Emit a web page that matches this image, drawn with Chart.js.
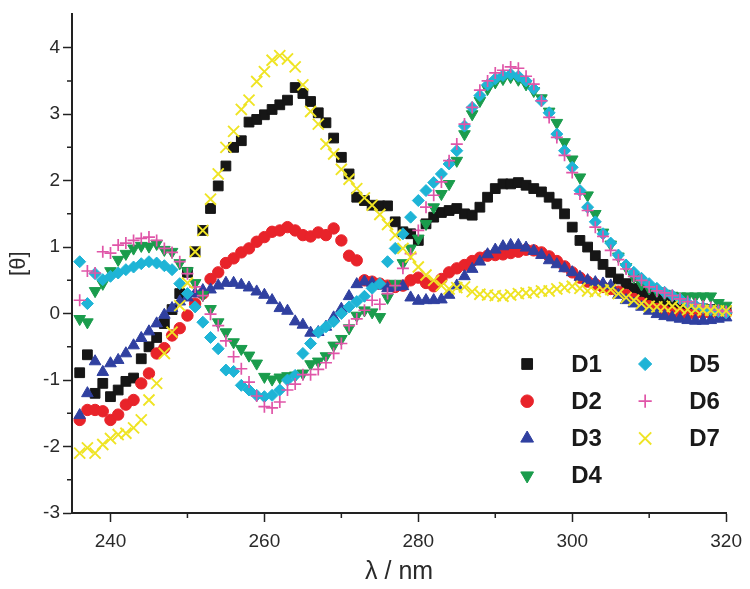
<!DOCTYPE html>
<html>
<head>
<meta charset="utf-8">
<script src="https://cdn.jsdelivr.net/npm/chart.js@4.4.0/dist/chart.umd.min.js"></script>
<style>
  html, body { margin: 0; padding: 0; background: #fff; }
  #wrap { width: 750px; height: 589px; }
</style>
</head>
<body>
<div id="wrap"><canvas id="cdChart" width="750" height="589"></canvas></div>
<script>
// --- Data ---
const wavelength = [
  236, 237, 238, 239, 240, 241, 242, 243, 244, 245,
  246, 247, 248, 249, 250, 251, 252, 253, 254, 255,
  256, 257, 258, 259, 260, 261, 262, 263, 264, 265,
  266, 267, 268, 269, 270, 271, 272, 273, 274, 275,
  276, 277, 278, 279, 280, 281, 282, 283, 284, 285,
  286, 287, 288, 289, 290, 291, 292, 293, 294, 295,
  296, 297, 298, 299, 300, 301, 302, 303, 304, 305,
  306, 307, 308, 309, 310, 311, 312, 313, 314, 315,
  316, 317, 318, 319, 320
];

const d1 = [
  -0.89, -0.62, -1.2, -1.05, -1.25, -1.15, -1.02, -0.97, -0.68, -0.5,
  -0.36, -0.15, 0.06, 0.3, 0.62, 0.93, 1.25, 1.58, 1.92, 2.22,
  2.5, 2.6, 2.88, 2.92, 2.99, 3.07, 3.14, 3.21, 3.4, 3.31,
  3.19, 3.02, 2.87, 2.64, 2.35, 2.1, 1.75, 1.7, 1.63, 1.62,
  1.62, 1.38, 1.23, 1.2, 1.1, 1.35, 1.45, 1.52, 1.55, 1.58,
  1.5, 1.48, 1.6, 1.75, 1.88, 1.95, 1.95, 1.97, 1.93, 1.88,
  1.83, 1.75, 1.65, 1.5, 1.3, 1.1, 1.0, 0.87, 0.74, 0.62,
  0.52, 0.45, 0.38, 0.32, 0.26, 0.22, 0.18, 0.15, 0.12, 0.1,
  0.08, 0.07, 0.06, 0.05, 0.05
];

const d2 = [
  -1.6, -1.45, -1.45, -1.47, -1.6, -1.52, -1.37, -1.3, -1.05, -0.9,
  -0.6, -0.52, -0.33, -0.22, -0.03, 0.15, 0.3, 0.52, 0.62, 0.76,
  0.83, 0.92, 0.98, 1.08, 1.15, 1.23, 1.25, 1.3, 1.25, 1.18,
  1.16, 1.22, 1.18, 1.28, 1.1, 0.87, 0.8, 0.5, 0.48, 0.45,
  0.42, 0.4, 0.42, 0.5, 0.54, 0.46, 0.41, 0.52, 0.62, 0.68,
  0.73, 0.79, 0.84, 0.87, 0.88, 0.89, 0.91, 0.93, 0.96, 0.95,
  0.92, 0.86, 0.79, 0.71, 0.62, 0.54, 0.48, 0.44, 0.4, 0.37,
  0.33, 0.28, 0.22, 0.16, 0.11, 0.07, 0.04, 0.02, 0.0, -0.01,
  0.0, 0.01, 0.01, 0.01, 0.01
];

const d3 = [
  -1.53, -1.2, -0.72, -0.88, -0.75, -0.7, -0.6, -0.48, -0.37, -0.27,
  -0.15, -0.02, 0.08, 0.18, 0.24, 0.3, 0.35, 0.36, 0.42, 0.46,
  0.46, 0.43, 0.39, 0.33, 0.28, 0.2, 0.08, 0.04, -0.12, -0.17,
  -0.29, -0.28, -0.2, -0.06, 0.07, 0.26, 0.44, 0.48, 0.46, 0.42,
  0.38, 0.4, 0.41, 0.24, 0.19, 0.2, 0.2, 0.21, 0.28, 0.42,
  0.56, 0.67, 0.78, 0.89, 0.96, 1.01, 1.03, 1.03, 0.99, 0.94,
  0.88, 0.8, 0.74, 0.68, 0.62, 0.55, 0.5, 0.47, 0.45, 0.42,
  0.28, 0.2, 0.15, 0.1, 0.04, -0.01, -0.04, -0.06, -0.08, -0.1,
  -0.11, -0.11, -0.1, -0.08, -0.06
];

const d4 = [
  -0.08, -0.13, 0.34, 0.45, 0.64, 0.81, 0.9, 0.98, 1.02, 1.01,
  1.05, 0.96, 0.93, 0.76, 0.64, 0.46, 0.28, 0.07, -0.13, -0.28,
  -0.43, -0.53, -0.63, -0.75, -0.95, -0.99, -0.96, -0.94, -0.93, -0.9,
  -0.76, -0.72, -0.64, -0.48, -0.38, -0.22, -0.03, 0.05, 0.02, -0.05,
  0.24, 0.45, 0.76, 0.98, 1.13, 1.35, 1.6, 1.8, 1.95, 2.3,
  2.7, 3.0, 3.2, 3.38, 3.48, 3.53, 3.56, 3.52, 3.45, 3.35,
  3.24, 3.04, 2.87, 2.58, 2.32, 2.05, 1.78, 1.5, 1.22, 1.04,
  0.86, 0.7, 0.55, 0.44, 0.38, 0.34, 0.3, 0.27, 0.26, 0.26,
  0.26, 0.26, 0.26, 0.16, 0.12
];

const d5 = [
  0.78, 0.15, 0.6, 0.51, 0.56, 0.61, 0.66, 0.7, 0.75, 0.78,
  0.76, 0.72, 0.66, 0.45, 0.3, 0.1, -0.13, -0.36, -0.53, -0.85,
  -0.87, -1.08, -1.15, -1.23, -1.25, -1.23, -1.15, -1.0, -0.93, -0.6,
  -0.45, -0.28, -0.2, -0.12, 0.0, 0.1, 0.18, 0.26, 0.38, 0.45,
  0.78, 0.98, 1.2, 1.45, 1.7, 1.85, 1.97, 2.1, 2.25, 2.45,
  2.82, 3.1, 3.28, 3.44, 3.53, 3.58, 3.6, 3.57, 3.5, 3.38,
  3.2, 3.02, 2.7, 2.45, 2.2, 1.85, 1.6, 1.38, 1.2, 1.06,
  0.88, 0.73, 0.62, 0.53, 0.45, 0.38, 0.32, 0.27, 0.22, 0.16,
  0.12, 0.09, 0.06, 0.03, 0.01
];

const d6 = [
  0.2, 0.64, 0.61, 0.93, 0.91, 1.03, 1.06, 1.1, 1.13, 1.15,
  1.1, 0.98, 0.92, 0.78, 0.6, 0.4, 0.27, -0.01, -0.18, -0.41,
  -0.65, -0.83, -1.03, -1.24, -1.4, -1.42, -1.33, -1.15, -1.06, -0.92,
  -0.92, -0.84, -0.74, -0.6, -0.45, -0.18, -0.08, 0.05, 0.2, 0.14,
  0.3, 0.42, 0.68, 0.9, 1.25, 1.6, 1.78, 1.98, 2.3, 2.55,
  2.85, 3.1, 3.36, 3.5, 3.62, 3.66, 3.71, 3.69, 3.57, 3.45,
  3.2, 2.95, 2.65, 2.38, 2.12, 1.8, 1.55, 1.3, 1.16, 0.95,
  0.81, 0.67, 0.56, 0.5, 0.4, 0.34, 0.31, 0.27, 0.22, 0.18,
  0.14, 0.11, 0.09, 0.05, 0.03
];

const d7 = [
  -2.1, -2.02, -2.1, -1.97, -1.88, -1.82, -1.8, -1.72, -1.6, -1.3,
  -1.05, -0.6, -0.28, 0.12, 0.46, 0.93, 1.25, 1.72, 2.1, 2.5,
  2.74, 3.07, 3.21, 3.49, 3.64, 3.81, 3.88, 3.83, 3.71, 3.44,
  3.04, 2.85, 2.55, 2.4, 2.17, 2.02, 1.88, 1.74, 1.63, 1.49,
  1.34, 1.18, 0.98, 0.85, 0.7, 0.58, 0.5, 0.42, 0.37, 0.39,
  0.4, 0.33, 0.29, 0.28, 0.27, 0.26, 0.28, 0.3, 0.31, 0.32,
  0.34, 0.34, 0.37, 0.39, 0.41, 0.38, 0.34, 0.33, 0.35, 0.36,
  0.3, 0.24, 0.2, 0.15, 0.11, 0.1, 0.1, 0.11, 0.08, 0.06,
  0.06, 0.05, 0.05, 0.04, 0.04
];

const seriesNames = ['D1', 'D2', 'D3', 'D4', 'D5', 'D6', 'D7'];
const seriesValues = [d1, d2, d3, d4, d5, d6, d7];

const xTickLabels = [240, 260, 280, 300, 320];
const xMinorTicks = [250, 270, 290, 310];
const yTickLabels = [-3, -2, -1, 0, 1, 2, 3, 4];
const yMinorTicks = [-2.5, -1.5, -0.5, 0.5, 1.5, 2.5, 3.5];

// --- Styles ---
const FONT = "'Liberation Sans', Arial, Helvetica, sans-serif";
const AXIS_COLOR = '#222222';
const TEXT_COLOR = '#2a2a2a';

const markerStyles = [
  { color: '#161616', pointStyle: 'rect',     radius: 6.9, rotation: 0,   border: 1 },
  { color: '#e8232a', pointStyle: 'circle',   radius: 5.7, rotation: 0,   border: 1 },
  { color: '#3040a0', pointStyle: 'triangle', radius: 6.7, rotation: 0,   border: 1 },
  { color: '#1a9c4c', pointStyle: 'triangle', radius: 6.7, rotation: 180, border: 1 },
  { color: '#1eb4d6', pointStyle: 'rectRot',  radius: 6.0, rotation: 0,   border: 1 },
  { color: '#e055a8', pointStyle: 'cross',    radius: 6.0, rotation: 0,   border: 1.7 },
  { color: '#efe424', pointStyle: 'crossRot', radius: 7.8, rotation: 0,   border: 1.9 }
];

// --- Plugins ---
const minorTicks = {
  id: 'minorTicks',
  afterDraw(chart) {
    const { ctx, chartArea, scales } = chart;
    ctx.save();
    ctx.strokeStyle = AXIS_COLOR;
    ctx.lineWidth = 1.5;
    ctx.beginPath();
    xMinorTicks.forEach(v => {
      const px = scales.x.getPixelForValue(v);
      ctx.moveTo(px, chartArea.bottom);
      ctx.lineTo(px, chartArea.bottom + 5);
    });
    yMinorTicks.forEach(v => {
      const py = scales.y.getPixelForValue(v);
      ctx.moveTo(chartArea.left, py);
      ctx.lineTo(chartArea.left - 5, py);
    });
    ctx.stroke();
    ctx.restore();
  }
};

// two-column legend inside the plot, D1-D4 left and D5-D7 right
const cornerLegend = {
  id: 'cornerLegend',
  afterDraw(chart) {
    const { ctx, chartArea } = chart;
    ctx.save();
    ctx.font = 'bold 24px ' + FONT;
    ctx.textBaseline = 'middle';
    ctx.textAlign = 'left';
    chart.data.datasets.forEach((ds, i) => {
      const col = i < 4 ? 0 : 1;
      const row = i < 4 ? i : i - 4;
      const mx = chartArea.right - 199 + col * 118;
      const my = chartArea.bottom - 149 + row * 37.2;
      ctx.fillStyle = ds.backgroundColor;
      ctx.strokeStyle = ds.borderColor;
      ctx.lineWidth = ds.pointBorderWidth;
      Chart.helpers.drawPoint(ctx, {
        pointStyle: ds.pointStyle,
        rotation: ds.pointRotation || 0,
        radius: ds.pointRadius * 1.1,
        borderWidth: ds.pointBorderWidth
      }, mx, my);
      ctx.fillStyle = '#1a1a1a';
      ctx.fillText(ds.label, mx + 44, my + 1);
    });
    ctx.restore();
  }
};

// --- Chart ---
function buildDatasets() {
  return seriesNames.map((name, i) => {
    const st = markerStyles[i];
    return {
      label: name,
      data: wavelength.map((w, k) => ({ x: w, y: seriesValues[i][k] })),
      backgroundColor: st.color,
      borderColor: st.color,
      pointStyle: st.pointStyle,
      pointRadius: st.radius,
      pointRotation: st.rotation,
      pointBorderWidth: st.border,
      showLine: false,
      clip: false,
      order: seriesNames.length - i
    };
  });
}

document.addEventListener('DOMContentLoaded', () => {
  const ctx = document.getElementById('cdChart').getContext('2d');
  new Chart(ctx, {
    type: 'scatter',
    data: { datasets: buildDatasets() },
    options: {
      responsive: false,
      animation: false,
      devicePixelRatio: 1,
      events: [],
      layout: { padding: { left: 0, right: 22, top: 9, bottom: 0 } },
      plugins: { legend: { display: false }, tooltip: { enabled: false } },
      scales: {
        x: {
          type: 'linear',
          min: 235,
          max: 320,
          border: { display: true, color: AXIS_COLOR, width: 2 },
          grid: { display: true, drawOnChartArea: false, drawTicks: true, tickLength: 9, tickWidth: 1.5, tickColor: AXIS_COLOR },
          ticks: {
            stepSize: 20,
            includeBounds: false,
            autoSkip: false,
            maxRotation: 0,
            padding: 8,
            color: TEXT_COLOR,
            font: { family: FONT, size: 19 },
            callback: v => xTickLabels.includes(v) ? String(v) : ''
          },
          title: {
            display: true,
            text: 'λ / nm',
            color: TEXT_COLOR,
            font: { family: FONT, size: 25 },
            padding: { top: 0, bottom: 2 }
          },
          afterFit(scale) { scale.height = 76; }
        },
        y: {
          type: 'linear',
          min: -3,
          max: 4.5,
          border: { display: true, color: AXIS_COLOR, width: 2 },
          grid: { display: true, drawOnChartArea: false, drawTicks: true, tickLength: 9, tickWidth: 1.5, tickColor: AXIS_COLOR },
          ticks: {
            stepSize: 1,
            includeBounds: false,
            padding: 3,
            color: TEXT_COLOR,
            font: { family: FONT, size: 19 },
            callback: v => yTickLabels.includes(v) ? String(v) : ''
          },
          title: {
            display: true,
            text: '[θ]',
            color: TEXT_COLOR,
            font: { family: FONT, size: 22 },
            padding: { top: 6, bottom: 0 }
          },
          afterFit(scale) { scale.width = 72; }
        }
      }
    },
    plugins: [minorTicks, cornerLegend]
  });
});
</script>
</body>
</html>
